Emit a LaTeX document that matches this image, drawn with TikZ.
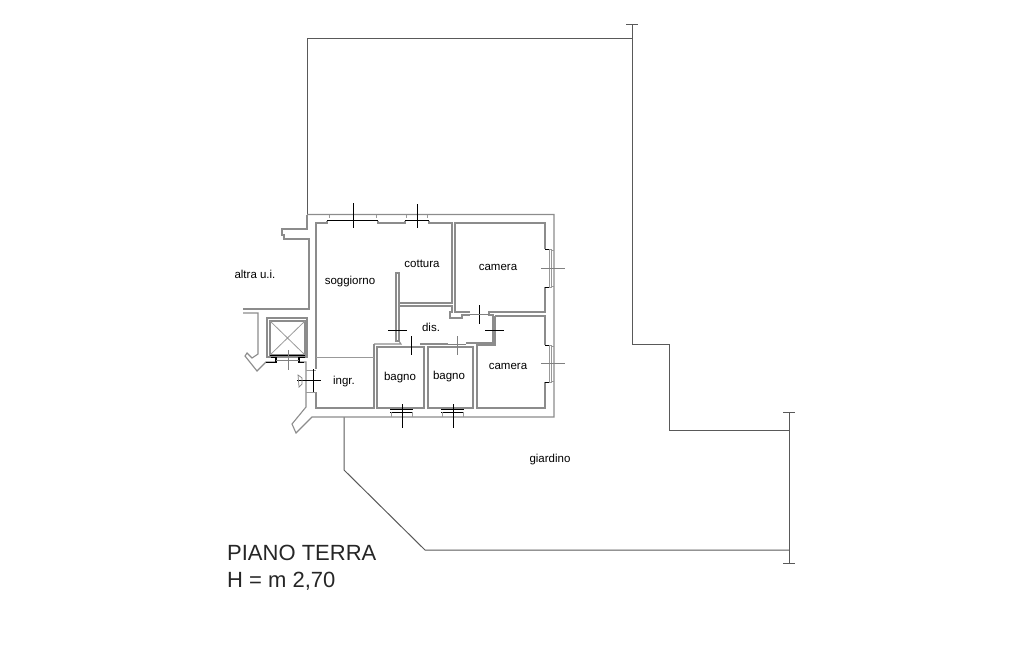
\documentclass[tikz,border=0pt]{standalone}
\usepackage{fontspec}
\setmainfont{Liberation Sans}
\tikzset{
  wall/.style={draw=black!45, line width=1.1pt},
  thinwall/.style={draw=black!40, line width=.8pt},
  heavy/.style={draw=black, line width=1.2pt},
  axis/.style={draw=black, line width=.8pt},
  faint/.style={draw=black!50, line width=.7pt},
  roomlabel/.style={font=\fontsize{11.5}{13}\selectfont, inner sep=0pt},
  titlelabel/.style={font=\fontsize{22}{26}\selectfont, inner sep=0pt, anchor=west, text=black!85}
}
\begin{document}
\begin{tikzpicture}[x=1pt, y=-1pt]
  \useasboundingbox (0,0) rectangle (1024,663);
  % garden boundary
  \begin{scope}[wall, draw=black!65, line width=1pt]
    \draw (307,215) -- (307,39) -- (632,39);
    \draw (632,25) -- (632,344) -- (669,344) -- (669,430) -- (789,430);
    \draw (789,412) -- (789,563);
    \draw (789,550) -- (425,550) -- (344,470) -- (344,417);
    \draw (626,25) -- (638,25);
    \draw (783,412) -- (795,412);
    \draw (783,563) -- (795,563);
  \end{scope}
  % outer walls
  \begin{scope}[wall]
    \draw (307,214.5) -- (554,214.5) -- (554,417) -- (312,417) -- (296,433) -- (292,424) -- (306,407) -- (306,362) -- (299,362);
    \draw (307,215) -- (307,229) -- (282,229) -- (282,235) -- (284,235) -- (284,239) -- (309,239) -- (309,309) -- (243,309);
    \draw (243,313) -- (258,313) -- (258,354) -- (252,358) -- (247,353) -- (245,356) -- (249,361) -- (257,371) -- (266,362) -- (276,362);
  \end{scope}
  % rooms
  \begin{scope}[wall]
    \draw (316,369) -- (316,223) -- (327,223) -- (327,220.5);
    \draw (378,220.5) -- (378,223) -- (405,223) -- (405,220.5);
    \draw (429,220.5) -- (429,223) -- (452,223) -- (452,303) -- (399,303);
    \draw (399,306) -- (452,306) -- (452,312) -- (450,312) -- (450,318) -- (462,318) -- (462,315) -- (470,315);
    \draw (470,312) -- (455,312) -- (455,223) -- (545,223) -- (545,249);
    \draw (545,287) -- (545,312) -- (489,312) -- (489,315) -- (493,315) -- (493,343) -- (466,343);
    \draw (495,316) -- (545,316) -- (545,345);
    \draw (545,382) -- (545,408) -- (477,408) -- (477,345) -- (495,345) -- (495,316);
    \draw (396,273) rectangle (399,341);
    \draw (396,341) -- (399,341) -- (401,344) -- (374,344);
    \draw (374,344) -- (374,408) -- (316,408) -- (316,392);
    \draw (420,344) -- (448,344);
    \draw (377,347) rectangle (424,408);
    \draw (428,347) rectangle (473,408);
  \end{scope}
  \draw[thinwall] (316,357.5) -- (374,357.5);
  % lift
  \draw[wall] (267,318) rectangle (307,357);
  \draw[wall] (270,321) rectangle (305,355);
  \draw[thinwall] (270,321) -- (305,355) (305,321) -- (270,355);
  \draw[heavy] (270,355.5) -- (305,355.5);
  \draw[heavy] (271,357.5) -- (276,357.5) -- (276,362.5) -- (266,362.5);
  \draw[heavy] (305,357.5) -- (299,357.5) -- (299,362.5) -- (304,362.5);
  \draw[faint] (276,360) -- (299,360);
  \draw[faint] (288,350) -- (288,370);
  % entrance door
  \draw[thinwall] (306,370) -- (316,370) (306,392) -- (316,392);
  \draw[heavy] (313.5,369) -- (313.5,392);
  \draw[axis] (297,380.5) -- (321,380.5);
  \draw[faint] (298,375) -- (302,378) -- (302,384) -- (299,387) -- cycle;
  % windows top
  \draw[heavy] (327,220.5) -- (378,220.5);
  \draw[heavy] (405,220.5) -- (429,220.5);
  \draw[axis] (353.5,203) -- (353.5,228);
  \draw[axis] (417.5,204) -- (417.5,228);
  \draw[thinwall] (329,214.5) -- (329,218) (376,214.5) -- (376,218);
  \draw[thinwall] (406,214.5) -- (406,218) (427,214.5) -- (427,218);
  % windows right
  \draw[heavy] (545,249.5) -- (550,249.5) (545,287.5) -- (550,287.5);
  \draw[thinwall] (549,249) rectangle (551,287);
  \draw[thinwall] (551,250) -- (554,250) (551,286) -- (554,286);
  \draw[faint] (541,268) -- (565,268);
  \draw[heavy] (545,345.5) -- (550,345.5) (545,382.5) -- (550,382.5);
  \draw[thinwall] (549,345) rectangle (551,382);
  \draw[thinwall] (551,346) -- (554,346) (551,381) -- (554,381);
  \draw[faint] (541,363) -- (565,363);
  % windows bottom
  \draw[axis] (390,409.5) -- (413,409.5) (390,412.5) -- (413,412.5);
  \draw[axis] (441,409.5) -- (464,409.5) (441,412.5) -- (464,412.5);
  \draw[thinwall] (391,412) -- (391,417) (412,412) -- (412,417);
  \draw[thinwall] (442,412) -- (442,417) (463,412) -- (463,417);
  \draw[axis] (402,404) -- (402,428);
  \draw[axis] (453,404) -- (453,428);
  % internal doors
  \draw[axis] (388,330.5) -- (407,330.5);
  \draw[axis] (411,336) -- (411,355);
  \draw[faint] (457,336) -- (457,355);
  \draw[axis] (485,330.5) -- (504,330.5);
  \draw[axis] (479,305) -- (479,324);
  \draw[faint] (470,314) -- (489,314);
  \draw[faint] (448,344) -- (466,344);
  % labels
  \node[roomlabel] (altra) at (255,274) {altra u.i.};
  \node[roomlabel] (soggiorno) at (350,282) {soggiorno};
  \node[roomlabel] (cottura) at (422,264) {cottura};
  \node[roomlabel] (camera1) at (498,267) {camera};
  \node[roomlabel] (dis) at (431,327) {dis.};
  \node[roomlabel] (camera2) at (508,366) {camera};
  \node[roomlabel] (bagno1) at (400,378) {bagno};
  \node[roomlabel] (bagno2) at (449,377) {bagno};
  \node[roomlabel] (ingr) at (344,382) {ingr.};
  \node[roomlabel] (giardino) at (550,460) {giardino};
  \node[titlelabel] (piano) at (227,553) {PIANO TERRA};
  \node[titlelabel] (altezza) at (227,581) {H = m 2,70};
\end{tikzpicture}
\end{document}
